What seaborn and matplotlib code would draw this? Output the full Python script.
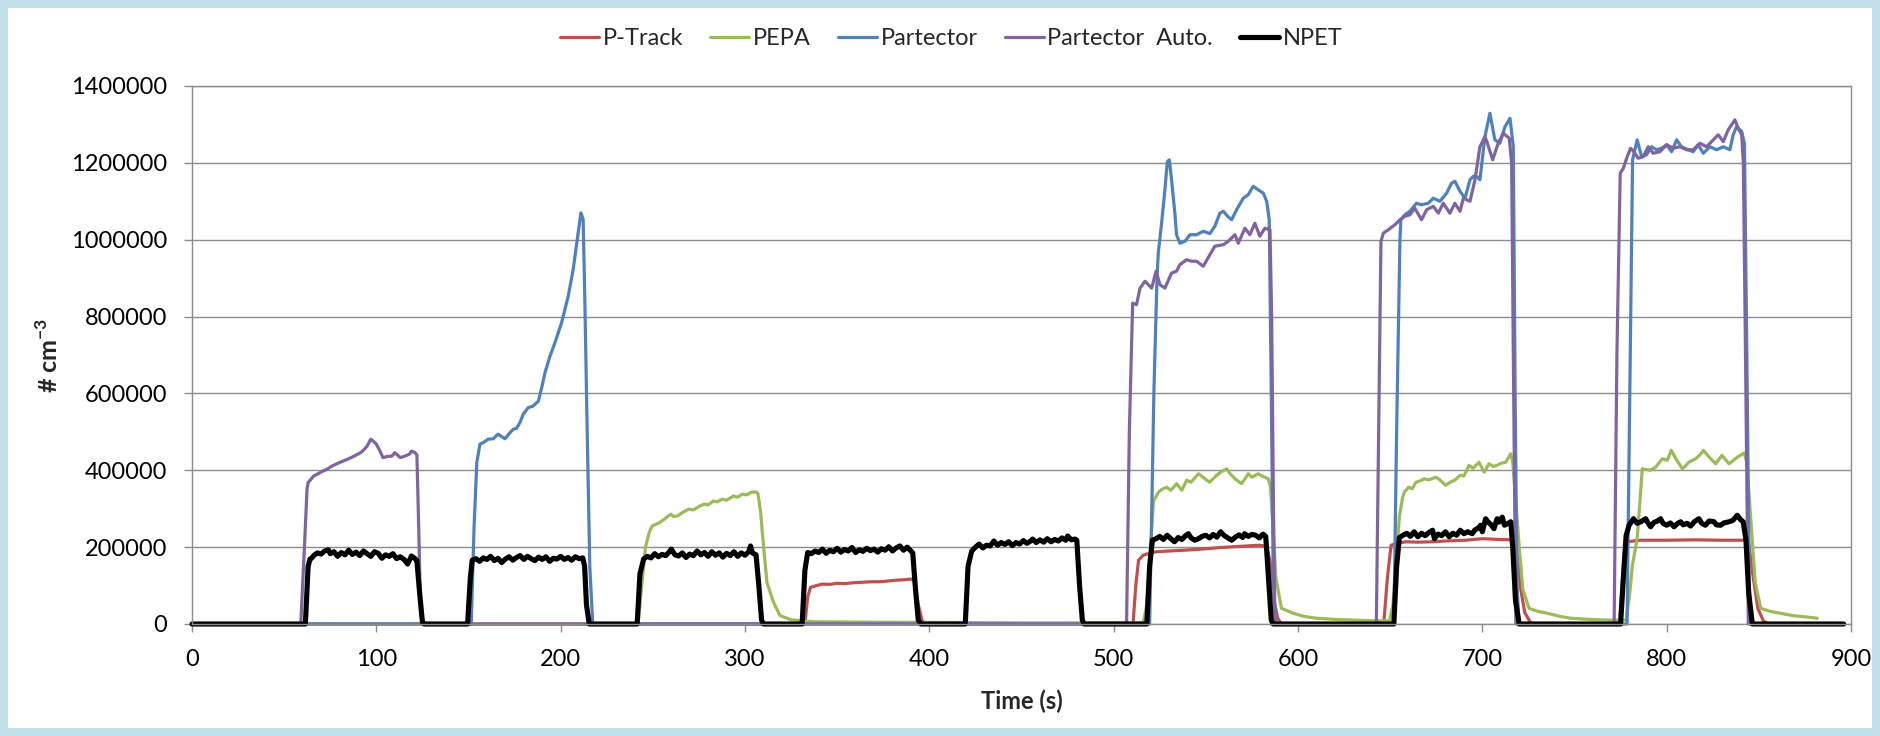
import matplotlib
matplotlib.use("Agg")
import matplotlib.pyplot as plt
from matplotlib.patches import Rectangle
import seaborn as sns

# ---------------- data (time in s, concentration in # cm^-3) ----------------
ptrack_t = [0, 332.5, 334, 335.5, 338, 342, 346, 350, 354, 358, 361.5, 365, 369, 373, 378, 382, 386, 390.3, 392, 394, 396, 397.5,
            510.5, 512, 513.5, 516, 520, 523.4, 530, 537.8, 545, 550.5, 558, 565, 572, 579, 583, 585.5, 587, 589, 591,
            646.5, 648.5, 650.5, 654, 658.6, 665, 673, 680, 691, 700, 709, 716, 718.5, 720.5, 723, 726, 728,
            774.5, 776.5, 778.7, 782, 786, 800, 815, 830, 842, 844.5, 847, 849.5, 852.5, 855, 890]
ptrack_v = [0, 0, 70000, 95000, 99000, 104000, 103000, 106000, 105000, 107000, 108000, 109000, 110000, 110000, 112000, 114000, 115000, 117000, 110000, 50000, 10000, 0,
            0, 100000, 166000, 179000, 185000, 188000, 190000, 192000, 194000, 196000, 199000, 201000, 203000, 205000, 202000, 150000, 60000, 15000, 0,
            0, 120000, 205000, 210000, 214000, 213000, 214000, 216000, 218000, 222000, 220000, 219000, 200000, 100000, 30000, 5000, 0,
            0, 150000, 214000, 216000, 218000, 218000, 219000, 218000, 218000, 210000, 120000, 40000, 8000, 0, 0]

pepa_t = [0, 242, 244, 246, 248, 249.6, 251, 253.7, 256, 259.8, 261, 263.4, 266, 269.5, 272, 275.5, 278, 280, 282.8, 285, 287.7, 290,
          293.7, 296, 298.5, 301, 303, 305.8, 307, 308.5, 309.4, 311.9, 315.5, 319, 325, 337, 360, 400, 450, 500, 516,
          518, 520, 521.6, 524.3, 526, 528.8, 531, 534.2, 537, 539.6, 542, 546, 549, 552, 555.9, 558, 561.3, 563, 565.8, 569.4, 573, 575,
          578.4, 581, 583.8, 585, 586.5, 588, 591, 597.3, 603, 610, 620, 637, 649.6,
          651.5, 653, 655, 656.8, 657.7, 660, 662, 664, 666, 668.5, 671, 674.8, 677, 680, 683, 685, 688, 690, 692.8, 695, 698.2, 701,
          703.6, 706, 708, 710, 712.7, 715.4, 716.5, 718, 720, 722, 725.3, 730, 735.3, 742, 748, 758, 769.6, 778,
          780, 781.4, 784, 786.8, 789, 791, 794, 797.6, 800.4, 802.5, 805, 808.5, 810, 812, 815.7, 818, 820, 822, 823.9, 826.6, 830,
          833.8, 836, 838.3, 842, 843.5, 846, 848, 851, 856, 861.8, 868, 874.5, 881.7]
pepa_v = [0, 0, 100000, 200000, 238000, 255000, 258000, 264000, 272000, 286000, 280000, 281000, 290000, 299000, 297000, 307000, 312000, 310000, 320000, 318000, 325000, 322000,
          333000, 330000, 338000, 336000, 342000, 344000, 340000, 290000, 238000, 108000, 56000, 22000, 11000, 6000, 5000, 4000, 3000, 3000, 3000,
          50000, 200000, 320000, 343000, 350000, 356000, 348000, 365000, 348000, 374000, 369000, 391000, 380000, 369000, 387000, 395000, 404000, 392000, 378000, 365000, 391000, 382000,
          391000, 384000, 378000, 360000, 250000, 120000, 41000, 28000, 20000, 15000, 12000, 9000, 8000,
          50000, 150000, 280000, 330000, 343000, 356000, 352000, 369000, 372000, 378000, 375000, 382000, 375000, 361000, 370000, 374000, 387000, 385000, 413000, 405000, 421000, 395000,
          417000, 410000, 413000, 418000, 421000, 443000, 421000, 330000, 200000, 90000, 41000, 33000, 28000, 20000, 15000, 12000, 10000, 10000,
          80000, 153000, 222000, 404000, 402000, 400000, 408000, 430000, 426000, 452000, 430000, 404000, 410000, 421000, 430000, 440000, 452000, 440000, 430000, 417000, 439000,
          417000, 425000, 434000, 445000, 420000, 250000, 110000, 41000, 33000, 28000, 22000, 19000, 15000]

partector_t = [0, 151.5, 153, 154.5, 156.2, 158, 160.7, 163.4, 166, 169.8, 172, 174.3, 176, 178, 179.7, 182.4, 185, 187.9, 189.7, 191.5,
               194.2, 196.9, 200.5, 204.1, 206.8, 209.5, 211, 212.2, 213.1, 214.4, 215.8, 217.4,
               519.5, 520.5, 521.8, 523.5, 524.2, 526, 527.8, 529.1, 530.2, 531.4, 533.2, 534.1, 535.9, 538.7, 541.4, 545, 548.6, 552.2, 554.9,
               557.6, 559.5, 562, 564, 566.7, 570.3, 573, 575.7, 578.4, 581.2, 583, 584.4, 585.5, 586.6, 588,
               652, 653.5, 655.3, 655.8, 658, 660.7, 664.3, 667, 670.7, 673.4, 677, 680.6, 683.3, 685.1, 687.9, 690.6, 693.3, 695.1, 696.9,
               698.7, 701.4, 704.1, 706.8, 709.5, 712.3, 715, 716.8, 717.8, 718.8, 720,
               778.5, 780, 781.5, 784, 786.4, 789.1, 791.8, 794.5, 797.2, 800, 802.7, 805.4, 808, 811.7, 814.4, 817.1, 819.9, 823.5, 827.1,
               830.7, 834.3, 836.1, 837.9, 840.7, 842.2, 843.5, 844.8, 846, 892]
partector_v = [0, 0, 250000, 420000, 468000, 472000, 481000, 482000, 494000, 482000, 495000, 507000, 509000, 525000, 546000, 563000, 567000, 580000, 615000, 654000,
               697000, 732000, 784000, 853000, 923000, 1018000, 1070000, 1053000, 845000, 498000, 150000, 0,
               0, 250000, 600000, 900000, 965000, 1043000, 1130000, 1203000, 1208000, 1156000, 1069000, 1013000, 991000, 996000, 1013000, 1013000, 1022000, 1016000, 1035000,
               1069000, 1074000, 1060000, 1052000, 1078000, 1108000, 1117000, 1139000, 1130000, 1121000, 1100000, 1052000, 600000, 100000, 0,
               0, 500000, 1000000, 1052000, 1065000, 1074000, 1095000, 1091000, 1095000, 1108000, 1100000, 1121000, 1147000, 1152000, 1126000, 1108000, 1156000, 1165000, 1165000,
               1156000, 1268000, 1329000, 1260000, 1251000, 1294000, 1316000, 1242000, 600000, 100000, 0,
               0, 600000, 1208000, 1260000, 1216000, 1221000, 1242000, 1234000, 1238000, 1247000, 1229000, 1260000, 1242000, 1234000, 1229000, 1247000, 1225000, 1242000, 1234000,
               1242000, 1234000, 1273000, 1294000, 1282000, 1250000, 700000, 100000, 0, 0]

auto_t = [0, 59, 61, 62.4, 63, 66, 68, 71, 73, 76, 79, 82, 85, 88, 91.5, 93, 95, 97, 98.5, 100, 102, 103.6, 106, 108.5, 110, 113, 115, 118, 119,
          121, 122, 123, 124, 125,
          507, 508.5, 510.3, 512.4, 514.3, 517, 520.6, 523, 525.1, 527.8, 531.4, 534.1, 535.9, 539.6, 542.3, 545, 548.6, 552.2, 554.9, 559.5,
          562.2, 565.8, 567.6, 571.2, 573.9, 576.6, 579.3, 582, 584.8, 585.7, 586.7, 587.5,
          642.5, 644, 645, 646.3, 649, 652.6, 655.3, 658, 660.7, 663.4, 667, 669.8, 673.4, 676.1, 678.8, 682.4, 685.1, 687.9, 689.7, 693.3,
          696, 698.7, 701.4, 702.5, 705.6, 708.6, 711.4, 714.6, 715.9, 717, 718.2,
          771.5, 773, 774.8, 776.5, 778.3, 780.4, 782.2, 784.6, 787.3, 790, 792.7, 796.3, 800, 803.6, 807.2, 810.8, 814.4, 818, 821.7, 825.3,
          828, 830.7, 833.4, 837, 838.8, 840.7, 841.6, 843, 844.3, 890]
auto_v = [0, 0, 200000, 351000, 368000, 385000, 390000, 398000, 402000, 411000, 418000, 424000, 430000, 437000, 446000, 452000, 463000, 481000, 475000, 468000, 450000, 433000, 436000, 437000, 446000, 433000, 436000, 442000, 450000,
          446000, 440000, 250000, 30000, 0,
          0, 500000, 835000, 831000, 874000, 892000, 874000, 918000, 883000, 874000, 913000, 918000, 935000, 948000, 944000, 944000, 931000, 961000, 983000, 987000,
          996000, 1013000, 991000, 1030000, 1013000, 1043000, 1009000, 1030000, 1026000, 800000, 300000, 0,
          0, 600000, 996000, 1017000, 1026000, 1039000, 1052000, 1061000, 1065000, 1082000, 1052000, 1078000, 1087000, 1069000, 1095000, 1069000, 1095000, 1074000, 1108000, 1100000,
          1156000, 1242000, 1268000, 1255000, 1208000, 1251000, 1277000, 1264000, 1199000, 600000, 0,
          0, 700000, 1173000, 1186000, 1212000, 1238000, 1229000, 1212000, 1216000, 1242000, 1225000, 1229000, 1247000, 1238000, 1242000, 1234000, 1234000, 1251000, 1242000, 1260000,
          1273000, 1255000, 1286000, 1312000, 1290000, 1273000, 1200000, 600000, 0, 0]

npet_t = [0, 61.5, 63, 64, 65, 66, 68, 70, 72, 74, 75, 77, 79, 81, 83, 85, 87, 89, 91, 93, 95, 97, 99, 101, 103, 105, 107, 109, 111, 113, 115, 117,
          119, 121, 122, 123.5, 125, 126,
          149.5, 151, 152, 154, 156, 158, 160, 162, 164, 166, 168, 170, 172, 174, 176, 178, 180, 182, 184, 186, 188, 190, 192, 194, 196, 198,
          200, 202, 204, 206, 208, 210, 212, 213, 214, 215.5,
          241.5, 243, 245, 247, 249, 251, 253, 255, 257, 259, 260, 262, 264, 266, 268, 270, 272, 274, 276, 278, 280, 282, 284, 286, 288, 290,
          292, 294, 296, 298, 300, 302, 303, 304, 306, 307.5, 309, 310,
          331, 332.5, 334, 336, 338, 340, 342, 344, 346, 348, 350, 352, 354, 356, 358, 360, 362, 364, 366, 368, 370, 372, 374, 376, 378, 380,
          382, 384, 386, 388, 390, 391, 392.5, 394, 395.5,
          419.5, 421, 423, 425, 427, 429, 431, 433, 435, 437, 439, 441, 443, 445, 447, 449, 451, 453, 455, 456, 458, 460, 462, 464, 466, 468,
          470, 472, 474, 475, 477, 479, 480, 481.5, 483, 484,
          518, 519.5, 521, 523, 525, 527, 529, 531, 533, 535, 537, 539, 540.5, 542, 544, 546, 548, 550, 552, 554, 556, 558, 560, 562, 564, 566,
          568, 570, 571, 573, 575, 577, 579, 581, 582.5, 584, 585.5, 586.5,
          652, 653.5, 655, 657, 659, 661, 663, 665, 667, 669, 671, 673, 674, 676, 678, 680, 682, 684, 686, 688, 690, 692, 694.5, 696, 698, 699,
          700, 701.8, 703, 705, 706.3, 708, 709, 710.8, 712, 714, 715.4, 716.5, 718, 720,
          775, 776.5, 778, 779.6, 782, 784, 786, 788.6, 790, 791.3, 793, 795, 796.7, 798, 800, 802, 804, 806, 807.6, 809, 811, 813, 815, 817.5,
          819, 821, 823, 825.7, 827, 829.3, 831, 833.8, 836, 838.3, 840, 841.5, 843, 844.5, 846.5, 896]
npet_v = [0, 0, 150000, 169000, 172000, 178000, 185000, 182000, 190000, 193000, 183000, 188000, 176000, 186000, 180000, 192000, 181000, 187000, 178000, 190000, 183000, 176000, 188000, 184000, 171000, 180000, 176000, 183000, 170000, 175000, 168000, 156000,
          177000, 170000, 165000, 80000, 5000, 0,
          0, 120000, 166000, 170000, 163000, 172000, 168000, 176000, 165000, 171000, 160000, 169000, 175000, 166000, 173000, 178000, 168000, 176000, 170000, 165000, 174000, 168000, 175000, 163000, 171000, 169000,
          176000, 168000, 173000, 166000, 175000, 170000, 172000, 150000, 50000, 0,
          0, 130000, 169000, 176000, 172000, 183000, 175000, 181000, 178000, 188000, 195000, 180000, 177000, 185000, 173000, 182000, 178000, 190000, 180000, 186000, 176000, 188000, 179000, 185000, 174000, 184000,
          178000, 188000, 176000, 185000, 179000, 188000, 203000, 185000, 180000, 100000, 10000, 0,
          0, 140000, 186000, 183000, 190000, 186000, 195000, 184000, 192000, 188000, 197000, 187000, 194000, 190000, 199000, 186000, 193000, 189000, 197000, 191000, 195000, 187000, 196000, 192000, 201000, 190000,
          198000, 203000, 192000, 200000, 190000, 185000, 90000, 10000, 0,
          0, 150000, 190000, 200000, 208000, 198000, 205000, 203000, 216000, 205000, 212000, 207000, 214000, 204000, 212000, 208000, 217000, 210000, 216000, 221000, 212000, 219000, 213000, 222000, 214000, 220000,
          216000, 224000, 218000, 229000, 219000, 221000, 218000, 100000, 10000, 0,
          0, 150000, 218000, 222000, 228000, 220000, 231000, 222000, 214000, 225000, 220000, 230000, 235000, 224000, 218000, 222000, 228000, 231000, 224000, 233000, 226000, 240000, 230000, 224000, 218000, 226000,
          232000, 225000, 235000, 228000, 233000, 231000, 224000, 234000, 228000, 120000, 10000, 0,
          0, 150000, 225000, 231000, 236000, 228000, 240000, 227000, 236000, 230000, 238000, 244000, 222000, 234000, 230000, 240000, 227000, 236000, 231000, 244000, 235000, 240000, 235000, 245000, 250000, 257000,
          240000, 274000, 266000, 257000, 248000, 274000, 265000, 278000, 257000, 262000, 266000, 200000, 60000, 0,
          0, 120000, 230000, 257000, 274000, 262000, 266000, 274000, 262000, 253000, 264000, 268000, 274000, 262000, 257000, 263000, 253000, 262000, 266000, 258000, 262000, 255000, 266000, 274000,
          262000, 257000, 268000, 266000, 258000, 257000, 263000, 266000, 270000, 283000, 272000, 266000, 220000, 80000, 0, 0]

series_names = ["P-Track", "PEPA", "Partector", "Partector  Auto.", "NPET"]
series_colors = ["#C0504D", "#9BBB59", "#4F81BD", "#8064A2", "#000000"]
x_ticks = [0, 100, 200, 300, 400, 500, 600, 700, 800, 900]
y_ticks = [0, 200000, 400000, 600000, 800000, 1000000, 1200000, 1400000]
y_tick_labels = ["0", "200000", "400000", "600000", "800000", "1000000", "1200000", "1400000"]

# ---------------- style ----------------
sns.set_style("white")
plt.rcParams["font.family"] = ["Lato", "DejaVu Sans"]
plt.rcParams["mathtext.fontset"] = "custom"
plt.rcParams["mathtext.rm"] = "Lato"
plt.rcParams["mathtext.bf"] = "Lato:bold"

W, H = 1880, 736
fig = plt.figure(figsize=(W / 100, H / 100), dpi=100)
fig.patch.set_facecolor("#c0e1e7")
fig.add_artist(Rectangle((8 / W, 8 / H), 1 - 16 / W, 1 - 16 / H, transform=fig.transFigure,
                         facecolor="white", edgecolor="none", zorder=-10))

ax = fig.add_axes([192 / W, 1 - 624 / H, (1851 - 192) / W, (624 - 86) / H])
ax.set_facecolor("white")

all_series = [(ptrack_t, ptrack_v), (pepa_t, pepa_v), (partector_t, partector_v),
              (auto_t, auto_v), (npet_t, npet_v)]
widths = [2.3, 2.3, 2.3, 2.3, 3.7]
for (t, v), name, col, lw in zip(all_series, series_names, series_colors, widths):
    sns.lineplot(x=t, y=v, ax=ax, color=col, linewidth=lw, label=name,
                 estimator=None, sort=False, clip_on=False)

ax.set_xlim(0, 900)
ax.set_ylim(0, 1400000)
ax.set_xticks(x_ticks)
ax.set_xticklabels([str(x) for x in x_ticks])
ax.set_yticks(y_ticks)
ax.set_yticklabels(y_tick_labels)

grid_col = "#8c8c8c"
ax.yaxis.grid(True, color=grid_col, linewidth=1.0)
ax.xaxis.grid(False)
ax.set_axisbelow(True)
for s in ax.spines.values():
    s.set_color(grid_col)
    s.set_linewidth(1.0)
    s.set_visible(True)
ax.tick_params(axis="both", which="major", direction="out", length=6, width=1.0,
               color=grid_col, labelsize=17, labelcolor="black")
ax.tick_params(axis="y", pad=12, left=True)
ax.tick_params(axis="x", pad=12, bottom=True)

ax.set_xlabel("Time (s)", fontsize=17, fontweight="bold", labelpad=14)
ax.set_ylabel(r"# cm$^{\mathbf{-3}}$", fontsize=18, fontweight="bold", labelpad=6)

handles, labels = ax.get_legend_handles_labels()
ax.get_legend().remove()
fig.legend(handles, labels, loc="center", bbox_to_anchor=(0.506, 0.948), ncol=5,
           frameon=False, fontsize=17, handlelength=1.65, handletextpad=0.15,
           columnspacing=1.15)

fig.savefig("out.png", dpi=100, facecolor=fig.get_facecolor())
